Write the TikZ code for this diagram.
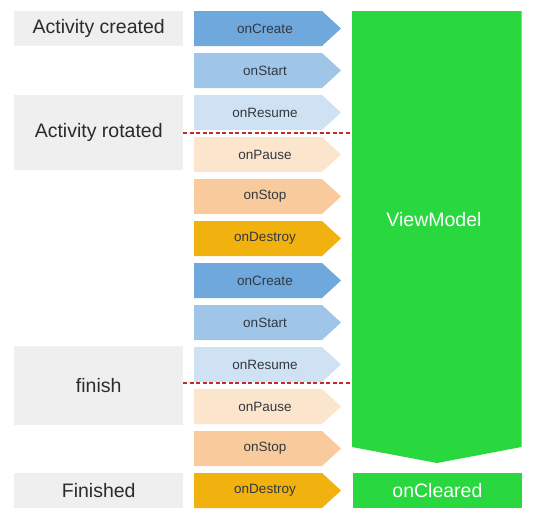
\documentclass[tikz,border=0pt]{standalone}
\usepackage{fontspec}
\setmainfont{Liberation Sans}
\definecolor{cA}{HTML}{6FA8DC}
\definecolor{cB}{HTML}{9FC5E8}
\definecolor{cC}{HTML}{CFE2F3}
\definecolor{cD}{HTML}{FCE5CD}
\definecolor{cE}{HTML}{F9CB9C}
\definecolor{cF}{HTML}{F1B10F}
\definecolor{vmgreen}{HTML}{29D73F}
\definecolor{boxgray}{HTML}{EFEFEF}
\definecolor{txtdark}{HTML}{2B2B2B}
\definecolor{lbltxt}{HTML}{333840}
\definecolor{dashred}{HTML}{C42A2A}
\begin{document}
\begin{tikzpicture}[x=1pt,y=-1pt,
  graybox/.style={fill=boxgray,anchor=north west,minimum width=169pt,inner sep=0pt,
    text=txtdark,font=\fontsize{19.5}{22}\selectfont},
  lbl/.style={text=lbltxt,font=\fontsize{13.5}{16}\selectfont,inner sep=0pt},
  greenbox/.style={fill=vmgreen,anchor=north west,minimum width=168.5pt,minimum height=35pt,
    inner sep=0pt,text=white,font=\fontsize{19.5}{22}\selectfont},
  reddash/.style={draw=dashred,line width=1.8pt,dash pattern=on 4pt off 2.5pt}]
\useasboundingbox (0,0) rectangle (542,517);
% left state boxes
\node[graybox,minimum height=35pt] (created) at (14,11) {Activity created};
\node[graybox,minimum height=75pt] (rotated) at (14,95) {Activity rotated};
\node[graybox,minimum height=79pt] (finish) at (14,346) {finish};
\node[graybox,minimum height=35pt] (finished) at (14,473) {Finished};
% lifecycle arrows
\foreach \i/\name/\col in {0/onCreate/cA,1/onStart/cB,2/onResume/cC,3/onPause/cD,4/onStop/cE,5/onDestroy/cF,
  6/onCreate/cA,7/onStart/cB,8/onResume/cC,9/onPause/cD,10/onStop/cE,11/onDestroy/cF}{
  \fill[\col] (194,{11+42*\i}) -- ++(128,0) -- ++(19,17.5) -- ++(-19,17.5) -- ++(-128,0) -- cycle;
  \node[lbl] (a\i) at (265,{28.5+42*\i}) {\name};
}
% ViewModel
\fill[vmgreen] (352,11) -- (521.5,11) -- (521.5,447) -- (437,463) -- (352,447) -- cycle;
\node[text=white,font=\fontsize{19.5}{22}\selectfont,inner sep=0pt] (vm) at (434,220) {ViewModel};
\coordinate (vmleft) at (352,0);
\node[greenbox] (cleared) at (353,473) {onCleared};
% dashed markers
\draw[reddash] (rotated.east) -- (rotated.east -| vmleft);
\draw[reddash] ([yshift=2.5pt]finish.east) -- ([yshift=2.5pt]finish.east -| vmleft);
\end{tikzpicture}
\end{document}
